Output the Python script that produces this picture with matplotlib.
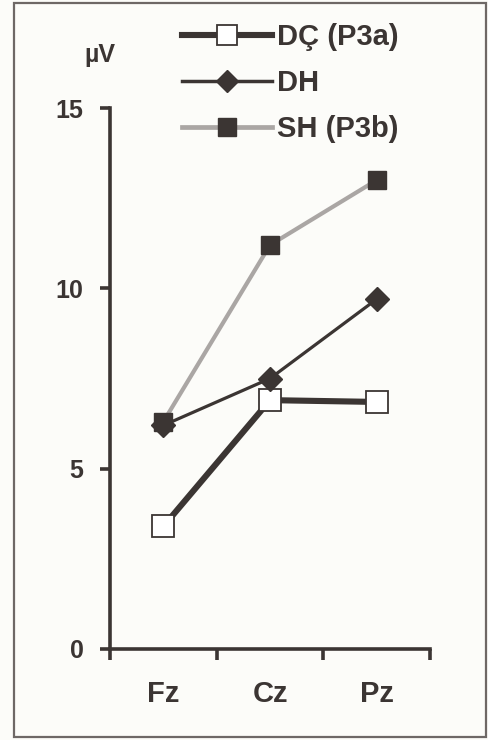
import matplotlib
matplotlib.use("Agg")
import matplotlib.pyplot as plt
from matplotlib.lines import Line2D
from matplotlib.patches import Rectangle

# Electrode sites and mean amplitudes (µV)
sites = ["Fz", "Cz", "Pz"]
dc_p3a = [3.4, 6.9, 6.85]
dh = [6.2, 7.5, 9.7]
sh_p3b = [6.3, 11.2, 13.0]
series_labels = ["DÇ (P3a)", "DH", "SH (P3b)"]
y_ticks = [0, 5, 10, 15]

ink = "#3b3533"
light = "#aaa6a4"
paper = "#fcfcf9"

plt.rcParams["font.family"] = ["Liberation Sans", "DejaVu Sans"]
plt.rcParams["font.weight"] = "bold"

W, H = 488, 740
fig = plt.figure(figsize=(W / 100, H / 100), dpi=100, facecolor=paper)

# outer frame
fig.patches.append(Rectangle((14 / W, 3 / H), 472 / W, 734 / H, transform=fig.transFigure,
                             fill=False, edgecolor="#6e6866", linewidth=1.6))

ax = fig.add_axes([110 / W, 1 - 649 / H, 320 / W, (649 - 108) / H])
ax.set_facecolor(paper)

xpos = [i + 0.5 for i in range(len(sites))]

ax.plot(xpos, sh_p3b, color=light, linewidth=3.0, marker="s", markersize=13,
        markerfacecolor=ink, markeredgecolor=ink, zorder=2, solid_capstyle="butt")
ax.plot(xpos, dc_p3a, color=ink, linewidth=4.4, marker="s", markersize=16,
        markerfacecolor="white", markeredgecolor=ink, markeredgewidth=1.3, zorder=3)
ax.plot(xpos, dh, color=ink, linewidth=2.3, marker="D", markersize=12,
        markerfacecolor=ink, markeredgecolor=ink, zorder=4)

ax.set_xlim(0, 3)
ax.set_ylim(0, 15)
for s in ("top", "right"):
    ax.spines[s].set_visible(False)
for s in ("left", "bottom"):
    ax.spines[s].set_linewidth(2.6)
    ax.spines[s].set_color(ink)
    ax.spines[s].set_capstyle("projecting")
ax.spines["left"].set_bounds(0, 15)

ax.set_yticks(y_ticks)
ax.set_yticklabels([str(v) for v in y_ticks])
ax.tick_params(axis="y", direction="out", length=7, width=2.6, color=ink,
               labelsize=18, labelcolor=ink, pad=12)

ax.set_xticks([0, 1, 2, 3])
ax.set_xticklabels([])
ax.tick_params(axis="x", which="major", direction="out", length=8, width=2.6, color=ink)
ax.set_xticks(xpos, minor=True)
ax.set_xticklabels(sites, minor=True)
ax.tick_params(axis="x", which="minor", length=0, labelsize=21, labelcolor=ink, pad=22)

fig.text(100 / W, 1 - 55 / H, "µV", ha="center", va="center", fontsize=18,
         color=ink, fontweight="bold")

handles = [
    Line2D([], [], color=ink, linewidth=4.4, marker="s", markersize=14.5,
           markerfacecolor="white", markeredgecolor=ink, markeredgewidth=1.3),
    Line2D([], [], color=ink, linewidth=2.5, marker="D", markersize=11,
           markerfacecolor=ink, markeredgecolor=ink),
    Line2D([], [], color=light, linewidth=3.4, marker="s", markersize=13,
           markerfacecolor=ink, markeredgecolor=ink),
]
leg = fig.legend(handles, series_labels, loc="upper left",
                 bbox_to_anchor=(182 / W, 1 - 23 / H), frameon=False,
                 fontsize=21, handlelength=3.1, handletextpad=0.15,
                 labelspacing=0.62, borderaxespad=0, borderpad=0)
for t in leg.get_texts():
    t.set_color(ink)
    t.set_fontweight("bold")

fig.savefig("out.png", dpi=100, facecolor=paper)
